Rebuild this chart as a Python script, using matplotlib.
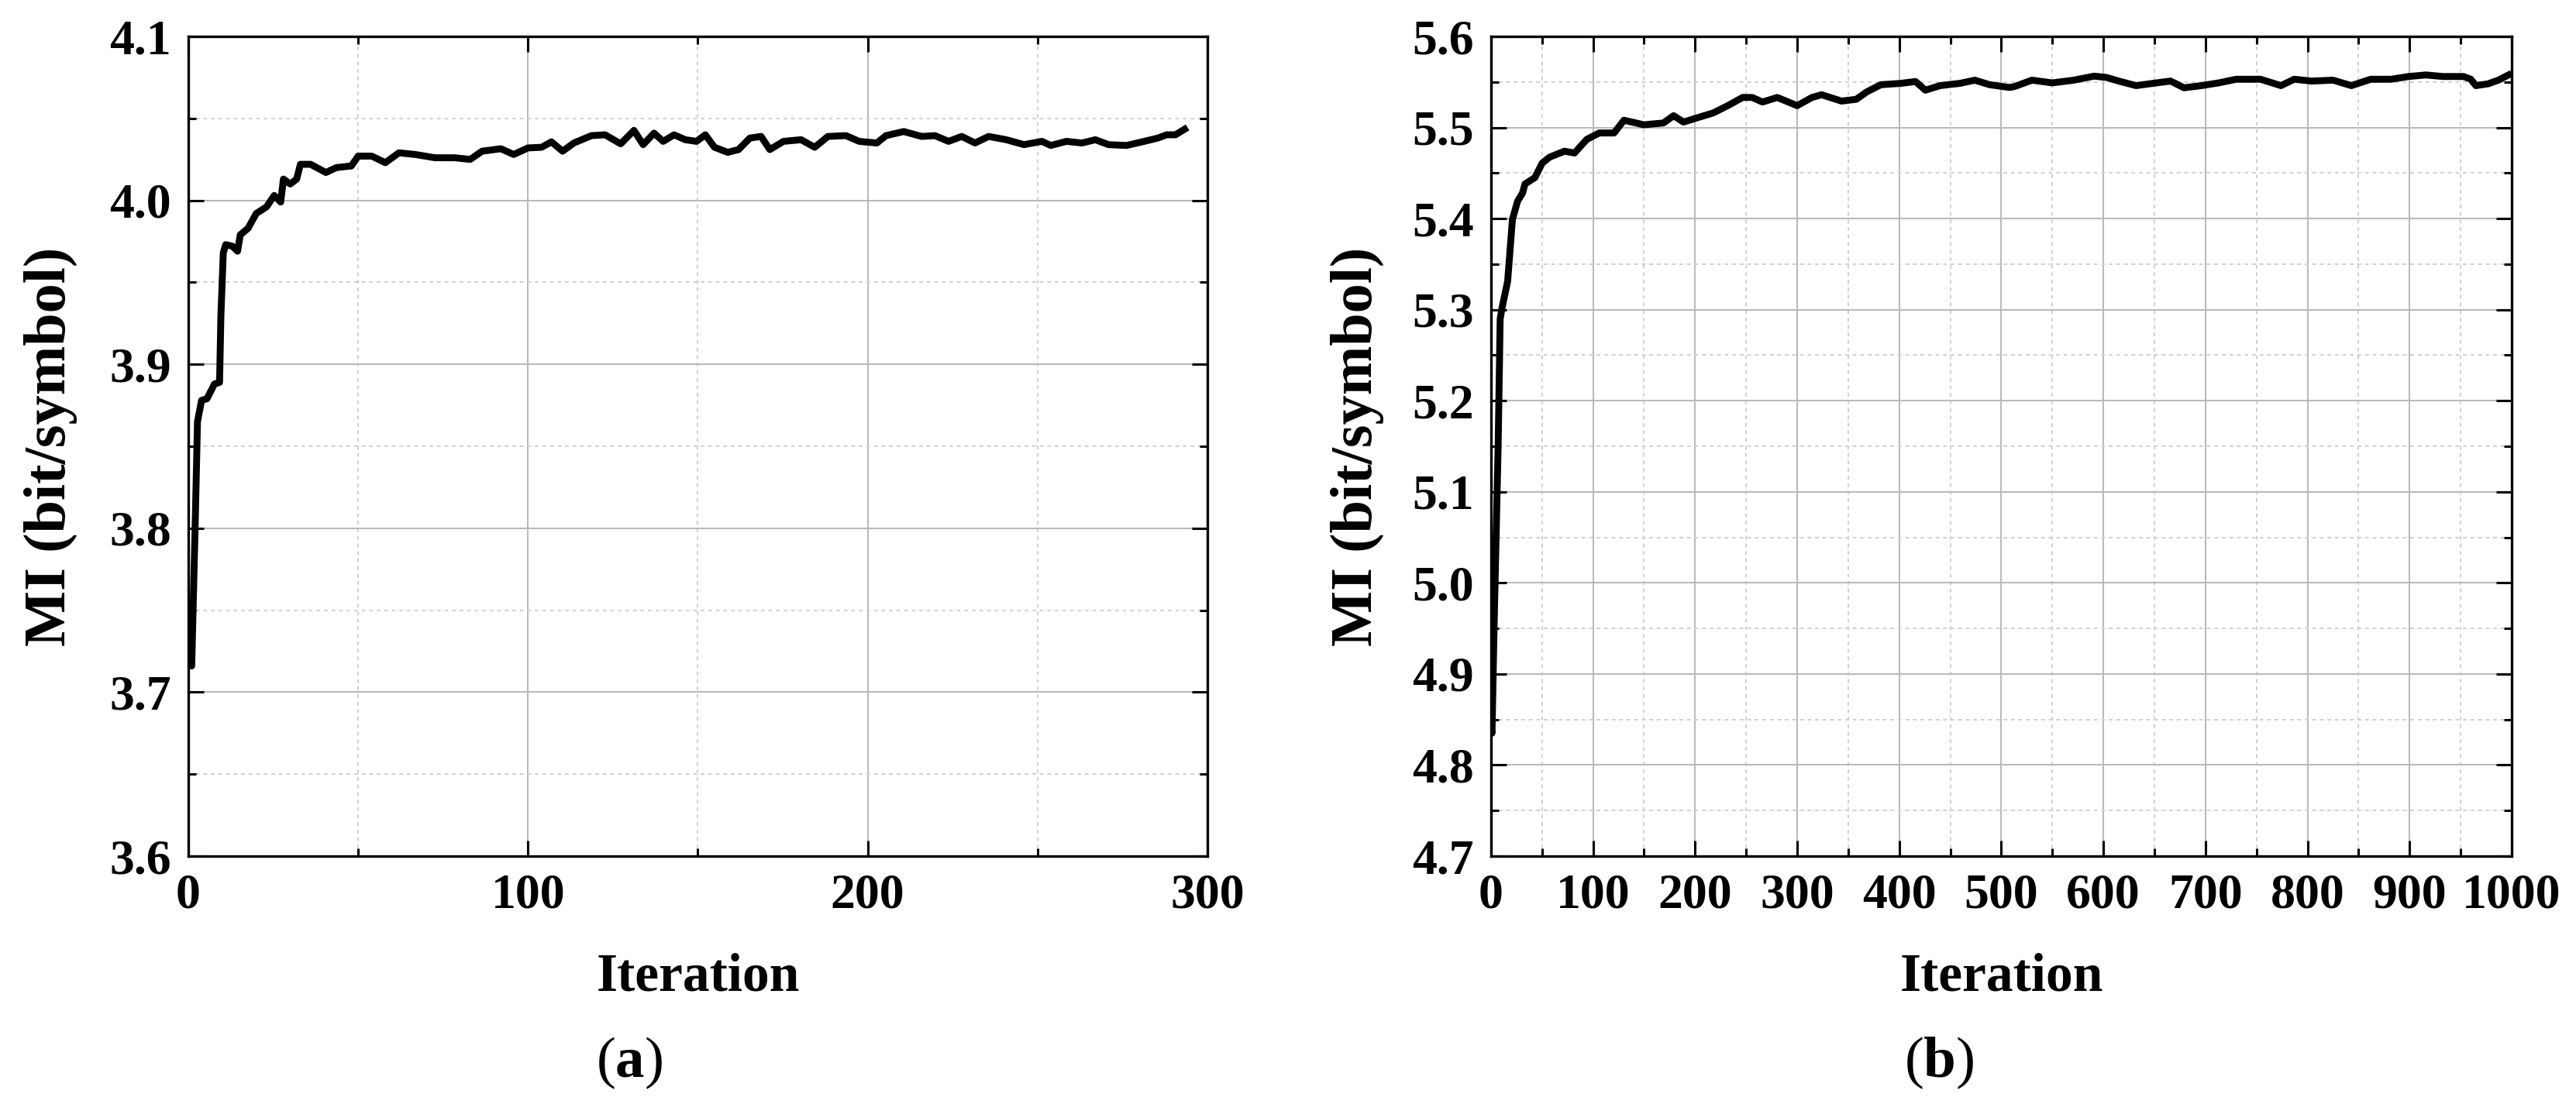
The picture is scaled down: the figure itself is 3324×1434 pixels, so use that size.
import matplotlib
matplotlib.use("Agg")
import matplotlib.pyplot as plt
from matplotlib.ticker import MultipleLocator, FormatStrFormatter

# panel (a): MI vs iteration
iter_a = [0, 1, 2, 2.7, 3.9, 5.5, 7.7, 9.2, 9.6, 10.3, 11, 13, 14.5, 15.3, 17.6,
          20, 23, 25.3, 27.2, 28, 30, 31.9, 33, 36, 40.5, 43.6, 48, 50, 54, 58,
          62, 66.8, 72.6, 78.4, 83, 86.5, 92, 95.8, 100, 104, 106.9, 110.2,
          113.5, 118.7, 122.7, 127.3, 131.2, 133.9, 137.1, 139.8, 143, 146.3,
          149.6, 152.2, 154.9, 158.8, 162, 165.3, 168.6, 171.2, 175.2, 180.4,
          184.4, 188.3, 193.6, 197.5, 202.7, 205.4, 210.6, 215.9, 219.8, 223.8,
          227.7, 231.6, 235.6, 240.8, 246, 251.3, 253.9, 258.5, 263.1, 267,
          270.9, 276.2, 281.4, 285.4, 288, 290.6, 293.3]
mi_a = [3.718, 3.716, 3.800, 3.865, 3.878, 3.879, 3.888, 3.889, 3.930, 3.968,
        3.973, 3.972, 3.969, 3.979, 3.983, 3.992, 3.996, 4.003, 3.999, 4.013,
        4.010, 4.013, 4.022, 4.022, 4.017, 4.020, 4.021, 4.027, 4.027, 4.023,
        4.029, 4.028, 4.026, 4.026, 4.025, 4.030, 4.0315, 4.028, 4.032, 4.0324,
        4.0357, 4.030, 4.035, 4.0395, 4.040, 4.0345, 4.0427, 4.034, 4.041,
        4.036, 4.040, 4.037, 4.036, 4.040, 4.0324, 4.0293, 4.031, 4.038, 4.039,
        4.031, 4.036, 4.037, 4.0324, 4.039, 4.0395, 4.036, 4.035, 4.0395,
        4.042, 4.039, 4.0395, 4.036, 4.039, 4.035, 4.039, 4.037, 4.034, 4.036,
        4.0335, 4.036, 4.035, 4.037, 4.034, 4.0335, 4.036, 4.038, 4.040,
        4.040, 4.0434]

# panel (b)
iter_b = [0, 1, 3, 5, 7, 9, 11, 16.3, 21, 26, 30.9, 33.3, 43, 50.2, 57.5, 72,
          81.8, 93.9, 106, 120.6, 130.3, 149.7, 169, 178.9, 188.6, 203, 217.7,
          232, 246.5, 256, 266, 280.5, 300, 314.5, 324, 343.5, 358, 368, 382,
          401.5, 416, 425.6, 440, 459.5, 474, 488.6, 508, 513, 530, 550, 571,
          591, 603, 615, 632, 652, 666, 679, 696, 713, 730, 754, 774, 787, 804,
          825, 843, 862, 882, 899, 916, 933, 953, 960, 965, 977, 987, 997]
mi_b = [4.840, 4.835, 4.950, 5.050, 5.150, 5.290, 5.303, 5.331, 5.399, 5.419,
        5.428, 5.438, 5.445, 5.461, 5.4675, 5.474, 5.472, 5.487, 5.494, 5.494,
        5.508, 5.503, 5.505, 5.513, 5.506, 5.511, 5.516, 5.524, 5.533, 5.533,
        5.528, 5.533, 5.524, 5.533, 5.536, 5.529, 5.531, 5.539, 5.547, 5.5485,
        5.5505, 5.541, 5.546, 5.5485, 5.552, 5.547, 5.544, 5.545, 5.552, 5.549,
        5.552, 5.5564, 5.555, 5.551, 5.546, 5.549, 5.551, 5.5436, 5.546, 5.549,
        5.553, 5.553, 5.546, 5.553, 5.551, 5.552, 5.546, 5.553, 5.553, 5.556,
        5.5577, 5.556, 5.556, 5.553, 5.546, 5.548, 5.552, 5.5577]

plt.rcParams["font.family"] = ["Liberation Serif", "DejaVu Serif"]
plt.rcParams["font.weight"] = "bold"
plt.rcParams["mathtext.fontset"] = "custom"
plt.rcParams["mathtext.rm"] = "Liberation Serif"
plt.rcParams["mathtext.bf"] = "Liberation Serif:bold"


def style_axes(ax, xmax, xmajor, ymin, ymax):
    ax.set_xlim(0, xmax)
    ax.set_ylim(ymin, ymax)
    ax.xaxis.set_major_locator(MultipleLocator(xmajor))
    ax.xaxis.set_minor_locator(MultipleLocator(xmajor / 2))
    ax.yaxis.set_major_locator(MultipleLocator(0.1))
    ax.yaxis.set_minor_locator(MultipleLocator(0.05))
    ax.yaxis.set_major_formatter(FormatStrFormatter("%.1f"))
    ax.grid(which="major", color="#b8b8b8", lw=0.7, ls="-")
    ax.grid(which="minor", color="#d0d0d0", lw=0.7, ls=(0, (2.5, 2.5)))
    ax.set_axisbelow(True)
    ax.tick_params(which="both", direction="in", top=True, right=True,
                   width=1.1, labelsize=23)
    ax.tick_params(which="major", length=7.2)
    ax.tick_params(which="minor", length=3.6)
    ax.tick_params(axis="y", pad=8)
    ax.tick_params(axis="x", pad=8)
    for s in ax.spines.values():
        s.set_linewidth(1.2)
    ax.set_xlabel("Iteration", fontsize=25, fontweight="bold")
    ax.set_ylabel("MI (bit/symbol)", fontsize=27.5, fontweight="bold")
    ax.xaxis.label.set_va("center")
    ax.yaxis.label.set_va("center")
    ax.xaxis.set_label_coords(0.5, -0.148)


fig = plt.figure(figsize=(16.62, 7.17), dpi=200)
ax_a = fig.add_axes([0.0731, 0.2294, 0.3956, 0.7378])
ax_b = fig.add_axes([0.5788, 0.2294, 0.3962, 0.7378])

ax_a.plot(iter_a, mi_a, color="black", lw=3.2)
style_axes(ax_a, 300, 100, 3.6, 4.1)
ax_a.yaxis.set_label_coords(-0.135, 0.5)

ax_b.plot(iter_b, mi_b, color="black", lw=3.2)
style_axes(ax_b, 1000, 100, 4.7, 5.6)
ax_b.yaxis.set_label_coords(-0.131, 0.5)

fig.text(0.2443, 0.0432, r"($\mathbf{a}$)", fontsize=27, fontweight="normal",
         ha="center", va="center")
fig.text(0.7527, 0.0432, r"($\mathbf{b}$)", fontsize=27, fontweight="normal",
         ha="center", va="center")

fig.savefig("out.png", dpi=200)
